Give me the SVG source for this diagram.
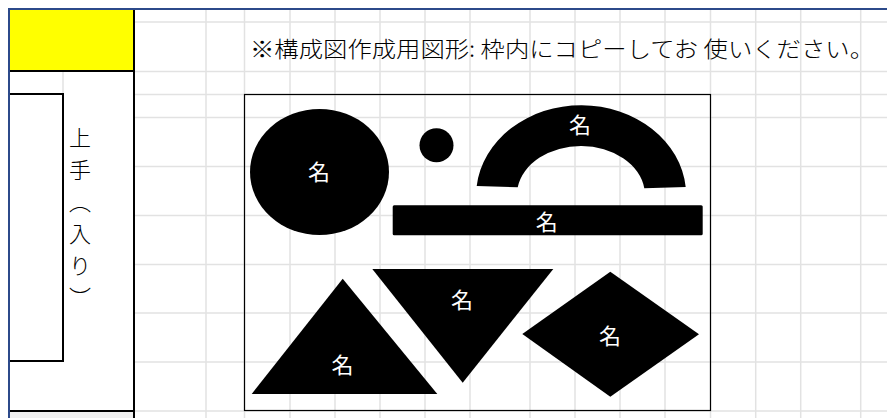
<svg xmlns="http://www.w3.org/2000/svg" width="887" height="418" viewBox="0 0 887 418">
  <style>
    .grid { stroke: #e2e2e2; stroke-width: 1.5; fill: none; }
    .blk { stroke: #000; stroke-width: 2; fill: none; }
    .shape { fill: #000; }
    .lbl { fill: #fff; font-family: "Noto Sans CJK JP", "Noto Sans", sans-serif; font-size: 22px; text-anchor: middle; dominant-baseline: central; }
    .txt { fill: #000; font-family: "Noto Sans CJK JP", "Noto Sans", sans-serif; font-size: 22px; font-weight: 300; }
  </style>
  <rect x="0" y="0" width="887" height="418" fill="#fff"/>
  <g id="grid">
    <path class="grid" d="M134 22H887 M134 71.5H887 M134 94.5H887 M134 117.5H887 M134 166.5H887 M134 215.5H887 M134 264.5H887 M134 313H887 M134 362H887 M134 411H887"/>
    <path class="grid" d="M206 9V418 M244.5 9V418 M290 9V418 M335 9V418 M380 9V418 M425 9V418 M470 9V418 M530 9V418 M575 9V418 M620 9V418 M665 9V418 M710.5 9V418 M755.7 9V418 M800.7 9V418 M860.7 9V418"/>
    <path class="grid" d="M63 71V94"/>
  </g>
  <g id="frame">
    <path d="M9 418V9H887" stroke="#2c4a8a" stroke-width="2" fill="none"/>
    <rect x="10" y="10" width="124" height="61" fill="#ffff00"/>
    <rect x="10" y="412" width="124" height="6" fill="#f0f0f0"/>
    <path class="blk" d="M10 71H134 M134 10V418 M10 411H134"/>
    <path class="blk" d="M10 94H63V361H10"/>
  </g>
  <g id="side-label">
    <text class="txt" x="80" y="127" writing-mode="vertical-rl" style="letter-spacing:10px">上手（入り）</text>
  </g>
  <g id="title">
    <text class="txt" x="250" y="57" textLength="624" lengthAdjust="spacingAndGlyphs">※構成図作成用図形: 枠内にコピーしてお 使いください。</text>
  </g>
  <g id="box">
    <rect x="244.5" y="94.5" width="466" height="316" fill="none" stroke="#000" stroke-width="1.2"/>
  </g>
  <g id="big-circle">
    <ellipse class="shape" cx="319.5" cy="172" rx="69.5" ry="63"/>
    <text class="lbl" x="319" y="170">名</text>
  </g>
  <g id="small-circle">
    <circle class="shape" cx="436.5" cy="145.3" r="17"/>
  </g>
  <g id="block-arc">
    <path class="shape" d="M476.7 186 A105 90 0 0 1 685.7 187 L644.3 188.3 A64 49 0 0 0 517.7 187.3 Z"/>
    <text class="lbl" x="580" y="123">名</text>
  </g>
  <g id="bar">
    <rect class="shape" x="392.7" y="205.3" width="310" height="30" rx="1.5"/>
    <text class="lbl" x="546.7" y="219.5">名</text>
  </g>
  <g id="triangle-up">
    <polygon class="shape" points="342.7,278.7 437.3,394 251.7,394"/>
    <text class="lbl" x="342.5" y="363">名</text>
  </g>
  <g id="triangle-down">
    <polygon class="shape" points="372.3,269 553.3,269 462.7,382.7"/>
    <text class="lbl" x="462" y="298">名</text>
  </g>
  <g id="diamond">
    <polygon class="shape" points="522.3,334 610.3,271.7 699,334.3 610.3,396.7"/>
    <text class="lbl" x="610" y="334">名</text>
  </g>
</svg>
